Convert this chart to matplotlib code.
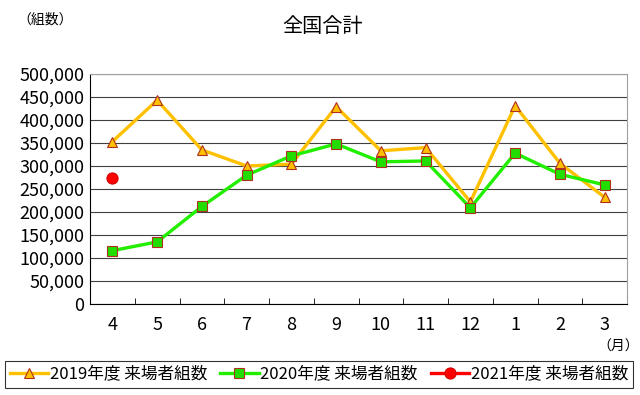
import matplotlib
matplotlib.use("Agg")
import matplotlib.pyplot as plt
from matplotlib.ticker import FuncFormatter

plt.rcParams['font.family'] = ['Noto Sans CJK JP', 'DejaVu Sans']

months = ["4", "5", "6", "7", "8", "9", "10", "11", "12", "1", "2", "3"]
fy2019 = [353000, 443000, 335000, 300000, 304000, 429000, 333000, 340000, 222000, 431000, 306000, 232000]
fy2020 = [116000, 135000, 212000, 280000, 322000, 348000, 309000, 311000, 209000, 328000, 282000, 259000]
fy2021 = [275000]

labels = ["2019年度 来場者組数", "2020年度 来場者組数", "2021年度 来場者組数"]

fig = plt.figure(figsize=(6.4, 3.95), dpi=100)
ax = fig.add_axes([90 / 640, 1 - 304 / 395, 537 / 640, 230 / 395])

x = list(range(len(months)))
ax.plot(x, fy2019, color="#FFC000", lw=2.4, marker="^", ms=7.5,
        mfc="#FFC000", mec="#B03020", mew=0.8, label=labels[0], zorder=3)
ax.plot(x, fy2020, color="#22EE00", lw=2.4, marker="s", ms=7,
        mfc="#22DD00", mec="#B03020", mew=0.8, label=labels[1], zorder=4)
ax.plot(x[:len(fy2021)], fy2021, color="#FF0000", lw=2.4, marker="o", ms=8,
        mfc="#FF0000", mec="#D00000", mew=0.8, label=labels[2], zorder=5)

ax.set_xlim(-0.5, len(months) - 0.5)
ax.set_ylim(0, 500000)
ax.set_yticks(range(0, 500001, 50000))
ax.yaxis.set_major_formatter(FuncFormatter(lambda v, p: f"{int(v):,}"))
ax.set_xticks(x)
ax.set_xticklabels(months)
ax.set_xticks([i + 0.5 for i in x[:-1]], minor=True)
ax.tick_params(axis="x", which="major", length=0, pad=9, labelsize=13)
ax.tick_params(axis="x", which="minor", length=4, direction="in", color="black")
ax.tick_params(axis="y", length=0, pad=4, labelsize=13)
ax.grid(axis="y", color="#404040", lw=0.8)
ax.set_axisbelow(True)
for s in ["top", "right"]:
    ax.spines[s].set_color("#A0A0A0")
for s in ["left", "bottom"]:
    ax.spines[s].set_color("black")

fig.text(323 / 640, 1 - 26 / 395, "全国合計", ha="center", va="center", fontsize=14.5)
fig.text(45 / 640, 1 - 20 / 395, "（組数）", ha="center", va="center", fontsize=10)
fig.text(618 / 640, 1 - 347 / 395, "（月）", ha="center", va="center", fontsize=10)

leg = fig.legend(loc="center", bbox_to_anchor=(319 / 640, 1 - 374 / 395), ncol=3,
                 frameon=True, fancybox=False, fontsize=12, handlelength=2.3,
                 handletextpad=0.1, columnspacing=0.8, borderpad=0.3)
leg.get_frame().set_edgecolor("black")
leg.get_frame().set_linewidth(0.8)

fig.savefig("out.png", dpi=100)
